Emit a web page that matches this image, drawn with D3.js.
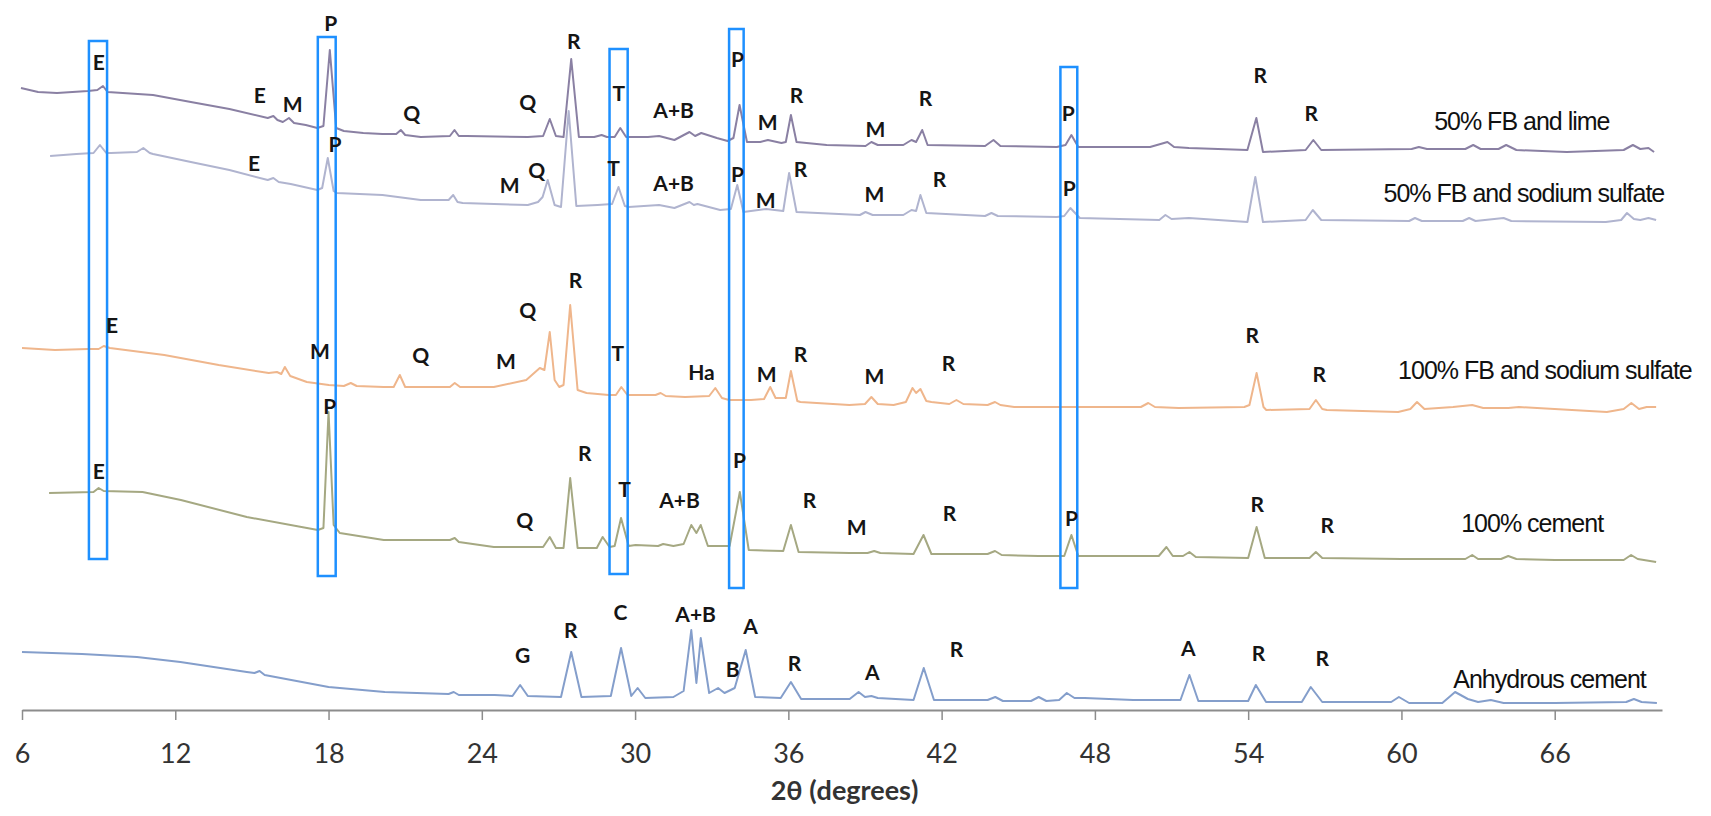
<!DOCTYPE html>
<html>
<head>
<meta charset="utf-8">
<script src="https://cdnjs.cloudflare.com/ajax/libs/d3/7.8.5/d3.min.js"></script>
<style>
  body { margin: 0; background: #fff; }
  .peak-label { font-family: Lato, 'Open Sans', sans-serif; font-weight: 700; font-size: 21px; fill: #151515; }
  .series-label { font-family: 'Liberation Sans', Arial, sans-serif; font-size: 25px; letter-spacing: -1px; fill: #111; }
  .axis text { font-family: Lato, sans-serif; font-size: 27px; fill: #333; }
  .axis-title { font-family: Lato, sans-serif; font-size: 27px; font-weight: 700; fill: #333; }
</style>
</head>
<body>
<svg class="js-chart"></svg>
<script>
/**
 * Data: 2theta (degrees) vs intensity (a.u., stacked)
 */
var seriesNames = ['50% FB and lime', '50% FB and sodium sulfate', '100% FB and sodium sulfate', '100% cement', 'Anhydrous cement'];
var seriesColors = ['#8a80a3', '#b0b4cf', '#efb68c', '#a5a882', '#849ecb'];
var seriesOffsets = [560, 489, 300, 150, 7];
var tickValues = [6, 12, 18, 24, 30, 36, 42, 48, 54, 60, 66];

var limeValues = [[5.96,62],[6.63,58],[7.37,57],[8.58,59],[8.95,60],[9.17,64],[9.35,58],[11.13,55],[12.61,48],[14.12,41],[15.62,32],[15.84,34],[16.0,30],[16.21,28],[16.45,32],[16.65,27],[17.11,25],[17.56,22],[17.8,24],[18.05,100],[18.3,22],[18.6,19],[19.36,17],[20.11,16],[20.65,16],[20.83,20],[21.0,15],[21.61,13],[22.75,14],[22.93,20],[23.1,14],[23.41,14],[25.8,13],[26.4,14],[26.66,31],[26.9,14],[27.2,13],[27.5,91],[27.8,13],[28.4,13],[28.69,15],[28.9,13],[29.2,13],[29.42,22],[29.65,13],[30.5,13],[30.94,14],[31.54,10],[32.13,18],[32.35,14],[32.59,17],[33.2,12],[33.62,9],[33.85,12],[34.09,45],[34.38,8],[34.9,8],[35.2,10],[35.73,7],[35.9,8],[36.1,35],[36.32,8],[37.5,5],[39.02,4],[39.25,8],[39.5,5],[40.5,5],[40.82,10],[41.0,8],[41.24,20],[41.45,5],[43.7,4],[44.03,10],[44.3,4],[46.51,3],[46.85,5],[47.08,15],[47.35,3],[49.95,3],[50.16,3],[50.84,8],[51.1,3],[51.68,2],[53.97,0],[54.32,32],[54.58,-2],[56.25,0],[56.55,10],[56.86,0],[60.4,1],[60.68,3],[61.0,1],[62.5,1],[62.81,5],[63.1,1],[63.8,1],[64.1,5],[64.5,0],[66.47,-2],[68.7,0],[69.06,5],[69.35,1],[69.67,2],[69.89,-2]];

var halfSulfateValues = [[7.1,65],[8.13,67],[8.8,68],[9.05,76],[9.3,68],[9.48,68],[10.5,69],[10.75,73],[11.0,68],[11.13,67],[12.61,59],[14.12,51],[15.62,41],[15.84,43],[16.05,39],[16.52,37],[17.56,31],[17.75,33],[17.97,63],[18.2,30],[18.32,28],[20.11,26],[21.61,21],[22.7,21],[22.88,26],[23.05,19],[23.25,18],[25.8,16],[26.2,19],[26.38,24],[26.58,41],[26.85,16],[27.1,14],[27.4,110],[27.7,15],[28.53,16],[29.1,17],[29.35,34],[29.6,15],[29.75,14],[30.94,16],[31.54,13],[32.13,19],[32.3,16],[32.44,17],[33.33,11],[33.75,12],[34.0,36],[34.24,9],[35.13,12],[35.8,10],[36.03,48],[36.32,9],[38.8,6],[39.02,9],[39.3,6],[40.5,6],[40.82,11],[41.0,10],[41.17,26],[41.4,8],[43.7,5],[43.95,8],[44.2,5],[46.51,4],[46.8,5],[47.04,13],[47.41,3],[50.52,1],[50.76,6],[51.0,2],[51.68,3],[53.97,-1],[54.28,44],[54.58,-1],[56.25,1],[56.53,11],[56.86,1],[60.3,0],[60.53,3],[60.8,0],[62.4,0],[62.65,3],[62.9,0],[64.0,3],[64.3,0],[68.0,-1],[68.6,1],[68.83,8],[69.1,2],[69.35,1],[69.67,3],[69.97,1]];

var fullSulfateValues = [[6.0,62],[7.29,60],[8.58,61],[9.0,61],[9.2,64],[9.44,62],[11.57,55],[13.7,45],[15.66,37],[15.98,38],[16.15,36],[16.29,43],[16.5,34],[17.15,28],[18.01,25],[18.6,24],[18.87,27],[19.1,24],[20.16,23],[20.55,23],[20.79,35],[21.0,23],[21.45,23],[22.75,23],[22.94,27],[23.15,23],[24.47,23],[25.74,30],[26.27,42],[26.45,40],[26.66,78],[26.85,30],[27.03,23],[27.2,25],[27.46,105],[27.75,20],[28.1,17],[28.97,15],[29.25,15],[29.46,23],[29.7,15],[30.02,15],[30.8,15],[31.0,17],[31.2,14],[31.96,13],[32.9,14],[33.14,22],[33.4,12],[33.68,10],[34.54,10],[35.05,11],[35.29,23],[35.5,12],[35.9,12],[36.1,39],[36.35,9],[36.47,8],[38.39,5],[39.0,6],[39.25,13],[39.5,6],[40.12,5],[40.6,8],[40.86,22],[41.0,17],[41.17,21],[41.4,9],[41.6,8],[42.3,6],[42.58,10],[42.85,6],[43.8,5],[44.09,8],[44.3,5],[44.84,3],[48.06,3],[49.8,3],[50.09,7],[50.35,3],[51.28,2],[53.85,3],[54.05,5],[54.33,37],[54.6,3],[54.71,0],[56.4,1],[56.65,10],[56.9,1],[57.08,0],[59.87,-2],[60.35,1],[60.61,8],[60.9,1],[62.02,3],[62.77,5],[63.2,2],[64.18,2],[64.6,3],[68.04,-2],[68.7,1],[69.0,7],[69.3,1],[69.6,3],[69.97,3]];

var cementValues = [[7.06,67],[8.8,68],[9.0,72],[9.2,69],[10.72,68],[12.22,60],[14.8,43],[17.58,30],[17.8,32],[18.0,148],[18.2,35],[18.44,27],[20.16,20],[22.75,20],[22.94,22],[23.1,18],[24.47,13],[26.4,13],[26.66,23],[26.9,12],[27.2,12],[27.46,82],[27.75,12],[28.5,12],[28.73,23],[29.0,13],[29.2,14],[29.45,42],[29.75,14],[30.02,15],[30.9,14],[31.1,16],[31.5,14],[31.9,16],[32.2,35],[32.4,27],[32.57,35],[32.85,14],[33.7,14],[34.1,68],[34.45,10],[35.8,9],[36.1,35],[36.4,8],[38.4,7],[39.1,7],[39.36,9],[39.6,7],[40.9,6],[41.29,25],[41.6,6],[43.8,6],[44.09,9],[44.35,5],[45.79,4],[46.8,4],[47.08,25],[47.35,4],[50.5,4],[50.8,13],[51.05,4],[51.45,4],[51.7,8],[51.95,3],[54.0,2],[54.33,33],[54.65,2],[56.4,2],[56.65,8],[56.9,2],[60.0,1],[62.5,1],[62.77,5],[63.0,1],[63.9,1],[64.18,4],[64.5,1],[66.0,0],[68.7,0],[68.99,5],[69.25,1],[69.97,-2]];

var anhydrousValues = [[6.0,51],[8.35,49],[10.5,46],[12.2,41],[14.8,31],[15.1,30],[15.3,32],[15.5,28],[18.0,16],[20.2,11],[22.7,9],[22.9,11],[23.1,8],[24.5,8],[25.2,7],[25.5,18],[25.8,7],[27.1,6],[27.5,51],[27.9,6],[29.05,7],[29.45,55],[29.85,7],[30.1,15],[30.4,5],[31.5,6],[31.9,12],[32.2,73],[32.4,20],[32.57,65],[32.9,10],[33.25,15],[33.5,10],[33.9,15],[34.33,53],[34.7,6],[35.7,5],[36.1,21],[36.5,4],[38.4,4],[38.75,11],[39.0,6],[39.25,7],[39.5,5],[40.9,3],[41.3,35],[41.7,3],[43.8,3],[44.1,6],[44.4,2],[45.5,2],[45.8,6],[46.1,2],[46.6,3],[46.9,10],[47.2,5],[47.6,5],[49.5,3],[51.35,3],[51.7,28],[52.05,2],[54.0,2],[54.3,18],[54.7,1],[56.1,1],[56.45,16],[56.9,1],[59.6,1],[59.9,6],[60.3,0],[61.6,0],[62.1,11],[62.6,4],[63.0,1],[63.5,3],[64.0,0],[66.0,0],[68.8,1],[69.1,4],[69.4,1],[70.0,0]];

var seriesValues = [limeValues, halfSulfateValues, fullSulfateValues, cementValues, anhydrousValues];

// Phase letters: [letter, 2theta, stacked intensity]
var limeLabels = [['E',9.01,647],['E',15.31,614],['M',16.6,605],['P',18.09,686],['Q',21.26,596],['Q',25.8,607],['R',27.6,668],['T',29.36,616],['A+B',31.51,599],['P',34.01,650],['M',35.19,587],['R',36.32,614],['M',39.41,580],['R',41.37,611],['P',46.96,596],['R',54.47,634],['R',56.47,596]];
var halfSulfateLabels = [['E',15.08,546],['P',18.25,565],['M',25.09,524],['Q',26.15,539],['T',29.16,541],['A+B',31.51,526],['P',34.01,535],['M',35.11,509],['R',36.48,540],['M',39.37,515],['R',41.92,530],['P',47.0,521]];
var fullSulfateLabels = [['E',9.52,384],['M',17.66,358],['Q',21.61,354],['M',24.94,348],['Q',25.8,399],['R',27.67,429],['T',29.32,356],['Ha',32.6,337],['M',35.15,335],['R',36.48,355],['M',39.37,333],['R',42.27,346],['R',54.16,374],['R',56.78,335]];
var cementLabels = [['E',9.01,238],['P',18.05,303],['Q',25.68,189],['R',28.03,256],['T',29.59,220],['A+B',31.74,209],['P',34.09,249],['R',36.83,209],['M',38.67,182],['R',42.31,196],['P',47.08,191],['R',54.36,205],['R',57.1,184]];
var anhydrousLabels = [['G',25.6,54],['R',27.48,79],['C',29.43,97],['A+B',32.37,95],['B',33.82,40],['A',34.52,83],['R',36.24,46],['A',39.29,37],['R',42.58,60],['A',51.66,61],['R',54.4,56],['R',56.9,51]];
var phaseLabels = [].concat(limeLabels, halfSulfateLabels, fullSulfateLabels, cementLabels, anhydrousLabels);

// Where each series name starts: [2theta, stacked intensity]
var nameAnchors = [[61.28,589],[59.3,517],[59.87,340],[62.34,187],[62.03,31]];

// Highlight boxes: [2theta from, 2theta to, intensity bottom, intensity top]
var highlightBoxes = [[8.62,9.33,151,669],[17.58,18.28,134,673],[29.0,29.71,136,661],[33.68,34.25,122,681],[46.65,47.31,122,643]];

/**
 * Chart
 */
var chartWidth = 1711;
var chartHeight = 816;

var svg = d3.select('.js-chart')
  .attr('width', chartWidth)
  .attr('height', chartHeight);

var x = d3.scaleLinear().domain([6, 70.2]).range([22, 1662]);
var y = d3.scaleLinear().domain([0, 700]).range([710, 10]);

var line = d3.line()
  .x(function(d) { return x(d[0]); })
  .y(function(d) { return y(d[1]); });

// Traces, shifted by their stacking offset
svg.append('g').selectAll('path')
  .data(seriesValues)
  .enter().append('path')
  .attr('d', function(d, i) {
    return line(d.map(function(p) { return [p[0], p[1] + seriesOffsets[i]]; }));
  })
  .attr('fill', 'none')
  .attr('stroke', function(d, i) { return seriesColors[i]; })
  .attr('stroke-width', 2)
  .attr('stroke-linejoin', 'round');

// Axis
var xAxis = d3.axisBottom(x)
  .tickValues(tickValues)
  .tickSize(10)
  .tickSizeOuter(0)
  .tickPadding(24);

var axisGroup = svg.append('g')
  .attr('class', 'axis')
  .attr('transform', 'translate(0,' + y(0) + ')')
  .call(xAxis);

axisGroup.select('.domain')
  .attr('stroke', '#8c8c8c')
  .attr('stroke-width', 2);
axisGroup.selectAll('.tick line')
  .attr('stroke', '#8c8c8c')
  .attr('stroke-width', 1.5);

svg.append('text')
  .attr('class', 'axis-title')
  .attr('x', x(38.2))
  .attr('y', 800)
  .attr('text-anchor', 'middle')
  .text('2θ (degrees)');

// Blue highlight boxes
svg.append('g').selectAll('rect')
  .data(highlightBoxes)
  .enter().append('rect')
  .attr('x', function(d) { return x(d[0]); })
  .attr('y', function(d) { return y(d[3]); })
  .attr('width', function(d) { return x(d[1]) - x(d[0]); })
  .attr('height', function(d) { return y(d[2]) - y(d[3]); })
  .attr('fill', 'none')
  .attr('stroke', '#1e90ff')
  .attr('stroke-width', 2.5);

// Phase letters
svg.append('g').selectAll('text')
  .data(phaseLabels)
  .enter().append('text')
  .attr('class', 'peak-label')
  .attr('x', function(d) { return x(d[1]); })
  .attr('y', function(d) { return y(d[2]); })
  .attr('text-anchor', 'middle')
  .attr('dy', '0.35em')
  .text(function(d) { return d[0]; });

// Series names
svg.append('g').selectAll('text')
  .data(seriesNames)
  .enter().append('text')
  .attr('class', 'series-label')
  .attr('x', function(d, i) { return x(nameAnchors[i][0]); })
  .attr('y', function(d, i) { return y(nameAnchors[i][1]); })
  .attr('dy', '0.35em')
  .text(function(d) { return d; });
</script>
</body>
</html>
